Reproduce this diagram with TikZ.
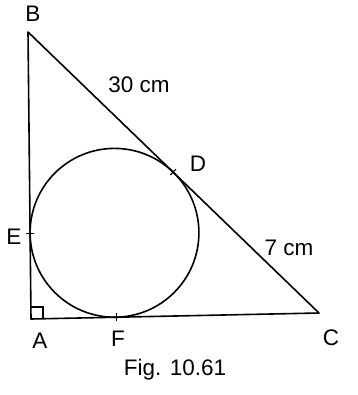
\documentclass[tikz,border=0pt]{standalone}
\usepackage{fontspec}
\setmainfont{Liberation Sans}
\usetikzlibrary{calc}
\tikzset{
    edge/.style={line width=1.6pt, line cap=round, line join=round},
    tick/.style={line width=1.1pt},
    lbl/.style={font=\fontsize{22.5}{26}\selectfont, inner sep=0pt},
}
\begin{document}
\begin{tikzpicture}[x=1pt, y=-1pt]
    \useasboundingbox (0,0) rectangle (357,395);

    \coordinate (A) at (31,319);
    \coordinate (B) at (28,32);
    \coordinate (C) at (319,313);
    \coordinate (O) at (114.5,232.8);
    \coordinate (E) at (30.1,233.7);
    \coordinate (F) at (116.3,317.2);
    \coordinate (D) at (173.1,172.1);

    \draw[edge] (A) -- (B) -- (C) -- cycle;
    \draw[edge] (O) circle[radius=84.4];
    \draw[line width=1.1pt] (31,307) -- (43,307) -- (43,319);

    % tangent marks
    \draw[tick] ($(E)+(-4,0)$) -- ($(E)+(4,0)$);
    \draw[tick] ($(F)+(0,-4)$) -- ($(F)+(0,4)$);
    \draw[tick] ($(D)!4pt!90:(C)$) -- ($(D)!4pt!-90:(C)$);

    \node[lbl] (lB) at (33,14) {B};
    \node[lbl] (lA) at (40,341) {A};
    \node[lbl] (lF) at (118,339) {F};
    \node[lbl] (lC) at (331,338) {C};
    \node[lbl] (lD) at (198,164) {D};
    \node[lbl] (lE) at (14,237) {E};
    \node[lbl] (lBC) at (139,85) {30 cm};
    \node[lbl] (lDC) at (289,248) {7 cm};
    \node[lbl] (cap) at (175,370) {Fig. 10.61};
\end{tikzpicture}
\end{document}
